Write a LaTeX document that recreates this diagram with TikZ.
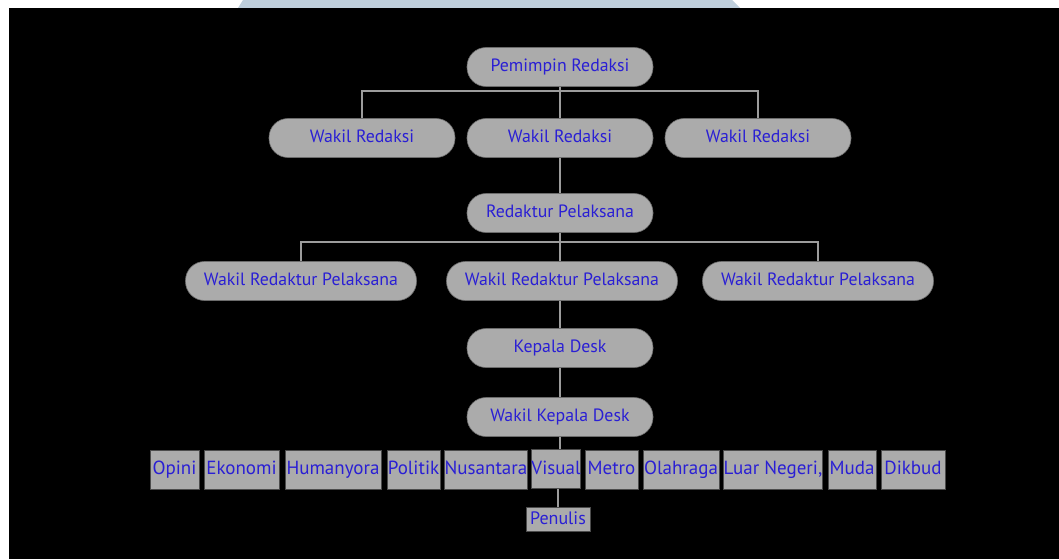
\documentclass[tikz,border=0pt]{standalone}
\usepackage{fontspec}
\setmainfont{PT Sans}
\definecolor{boxgray}{HTML}{ABABAB}
\definecolor{textblue}{HTML}{2A1FD4}
\definecolor{linegray}{HTML}{9C9C9C}
\definecolor{markblue}{HTML}{BFCFDC}

\begin{document}
\begin{tikzpicture}[x=1pt,y=-1pt,
	pill/.style={rounded corners=19pt, fill=boxgray, draw=gray!85!black, line width=0.6pt,
		minimum height=39pt, minimum width=186pt, text height=13pt, text depth=4pt,
		text=textblue, font=\fontsize{17.8}{20}\selectfont},
	desk/.style={fill=boxgray, draw=gray!60!black, line width=0.8pt, inner sep=0pt,
		minimum height=39pt, text height=14pt, text depth=4pt,
		text=textblue, font=\fontsize{19}{21}\selectfont},
	conn/.style={draw=linegray, line width=1.3pt}]
% page and background
\fill [white] (0,0) rectangle (1059,559);
\fill [markblue] (238,8) -- (243,0) -- (732,0) -- (740,8) -- cycle;
\fill [black] (9,8) rectangle (1059,559);

% pimpinan
\node [pill] (pr) at (560,67) {Pemimpin Redaksi};
\node [pill] (wr1) at (362,138) {Wakil Redaksi};
\node [pill] (wr2) at (560,138) {Wakil Redaksi};
\node [pill] (wr3) at (758,138) {Wakil Redaksi};
\node [pill] (rp) at (560,213) {Redaktur Pelaksana};
\node [pill, minimum width=231pt] (wrp1) at (301,281) {Wakil Redaktur Pelaksana};
\node [pill, minimum width=231pt] (wrp2) at (562,281) {Wakil Redaktur Pelaksana};
\node [pill, minimum width=231pt] (wrp3) at (818,281) {Wakil Redaktur Pelaksana};
\node [pill] (kd) at (560,348) {Kepala Desk};
\node [pill] (wkd) at (560,417) {Wakil Kepala Desk};

% desk
\node [desk, minimum width=49pt] (opi) at (174.5,469.5) {Opini};
\node [desk, minimum width=75pt] (eko) at (241.5,469.5) {Ekonomi};
\node [desk, minimum width=96pt] (hum) at (333,469.5) {Humanyora};
\node [desk, minimum width=53pt] (pol) at (413.5,469.5) {Politik};
\node [desk, minimum width=82pt] (nus) at (486,469.5) {Nusantara};
\node [desk, minimum width=48pt] (vis) at (556,469) {Visual};
\node [desk, minimum width=53pt] (met) at (611.5,469.5) {Metro};
\node [desk, minimum width=76pt] (ola) at (681,469.5) {Olahraga};
\node [desk, minimum width=98pt] (lua) at (773,469.5) {Luar Negeri,};
\node [desk, minimum width=48pt] (mud) at (852,469.5) {Muda};
\node [desk, minimum width=64pt] (dik) at (913,469.5) {Dikbud};
\node [desk, minimum width=64pt, minimum height=24pt, text height=13pt, text depth=3pt,
	font=\fontsize{18}{19}\selectfont] (pen) at (558,519) {Penulis};

% garis
\coordinate (bus1) at (560,91);
\coordinate (bus2) at (560,242);
\draw [conn] (pr.south) -- (wr2.north);
\draw [conn] (wr1.north) |- (bus1) -| (wr3.north);
\draw [conn] (wr2.south) -- (rp.north);
\draw [conn] (rp.south) -- (rp.south |- wrp2.north);
\draw [conn] (wrp1.north) |- (bus2) -| (wrp3.north);
\draw [conn] (kd.north |- wrp2.south) -- (kd.north);
\draw [conn] (kd.south) -- (wkd.north);
\draw [conn] (wkd.south) -- (wkd.south |- vis.north);
\draw [conn] (pen.north |- vis.south) -- (pen.north);
\end{tikzpicture}
\end{document}
